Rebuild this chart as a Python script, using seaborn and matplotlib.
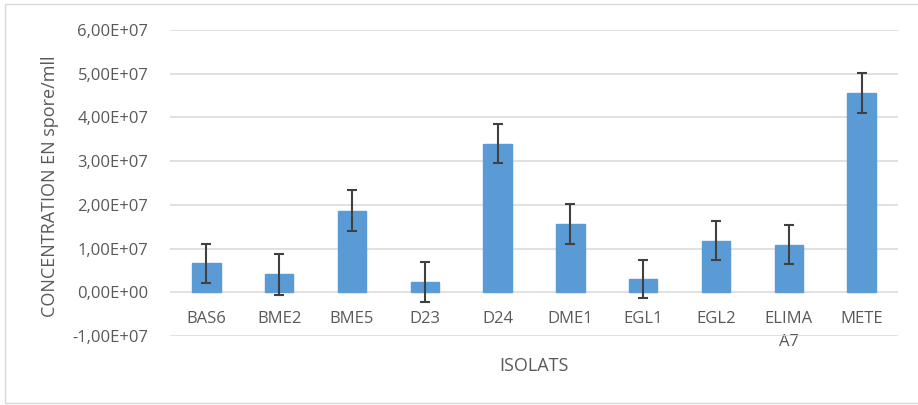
import matplotlib
matplotlib.use("Agg")
import matplotlib.pyplot as plt
import matplotlib.ticker as mticker
from matplotlib.patches import Rectangle
import seaborn as sns
import pandas as pd
import numpy as np

categories = ["BAS6", "BME2", "BME5", "D23", "D24", "DME1", "EGL1", "EGL2", "ELIMA\nA7", "METE"]
values = [0.66e7, 0.41e7, 1.87e7, 0.24e7, 3.40e7, 1.56e7, 0.30e7, 1.18e7, 1.09e7, 4.56e7]
errors = [0.45e7, 0.47e7, 0.46e7, 0.46e7, 0.45e7, 0.45e7, 0.44e7, 0.45e7, 0.44e7, 0.46e7]
y_ticks = [-1e7, 0, 1e7, 2e7, 3e7, 4e7, 5e7, 6e7]

sns.set_theme(style="white")
plt.rcParams["font.family"] = ["Open Sans", "DejaVu Sans"]

df = pd.DataFrame({"isolat": categories, "conc": values})

fig = plt.figure(figsize=(9.18, 4.05), dpi=100)
fig.patches.append(Rectangle((5 / 918, 2 / 405), 1.0, 399 / 405, transform=fig.transFigure,
                             fill=False, edgecolor="#d9d9d9", linewidth=1.0))
ax = fig.add_axes([170 / 918, 1 - 336 / 405, 728 / 918, 306 / 405])

sns.barplot(data=df, x="isolat", y="conc", color="#5B9BD5", saturation=1, width=0.39,
            errorbar=None, ax=ax, zorder=3)
for p in ax.patches:
    p.set_edgecolor("#5B9BD5")

centers = [p.get_x() + p.get_width() / 2 for p in ax.patches]
ax.errorbar(centers, values, yerr=errors, fmt="none", ecolor="#404040", elinewidth=1.5,
            capsize=3.5, capthick=1.5, zorder=4)

ax.set_ylim(-1e7, 6e7)
ax.set_yticks(y_ticks)
ax.yaxis.set_major_formatter(mticker.FuncFormatter(lambda v, pos: f"{v:.2E}".replace(".", ",")))
ax.set_xlim(-0.5, len(categories) - 0.5)
ax.set_axisbelow(True)
ax.yaxis.grid(True, color="#d9d9d9", linewidth=1.1)
ax.xaxis.grid(False)
for s in ax.spines.values():
    s.set_visible(False)
ax.spines["bottom"].set_position(("data", 0))

ax.tick_params(axis="both", length=0, labelsize=12, labelcolor="#595959")
ax.tick_params(axis="y", pad=15.5)
ax.tick_params(axis="x", pad=13.5)
for lbl in ax.get_xticklabels():
    lbl.set_linespacing(1.55)

ax.set_xlabel("ISOLATS", fontsize=13, color="#595959")
ax.set_ylabel("CONCENTRATION EN spore/mll", fontsize=13, color="#595959")
ax.xaxis.set_label_coords(0.5, -0.069)
ax.yaxis.set_label_coords(-0.152, 0.49)

fig.savefig("out.png", dpi=100)
